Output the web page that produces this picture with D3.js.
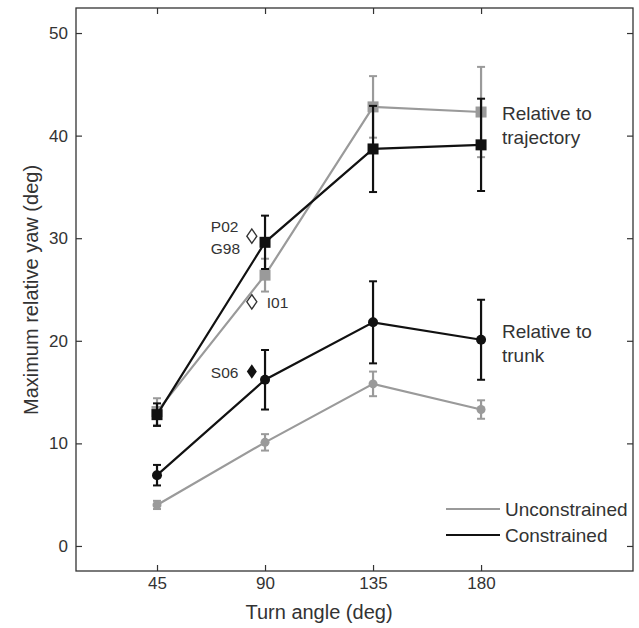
<!DOCTYPE html>
<html>
<head>
<meta charset="utf-8">
<script src="https://cdn.jsdelivr.net/npm/d3@7"></script>
<style>
  body { margin: 0; background: #fff; }
  text { font-family: "Liberation Sans", Arial, sans-serif; fill: #333; }
</style>
</head>
<body>
<svg width="639" height="628"></svg>
<script>
// data
const angles = [45, 90, 135, 180];
const trajUnc = [13.1, 26.4, 42.8, 42.3];
const trajUncErr = [1.3, 1.6, 3.0, 4.4];
const trajCon = [12.8, 29.6, 38.7, 39.1];
const trajConErr = [1.1, 2.6, 4.2, 4.5];
const trunkUnc = [4.0, 10.1, 15.8, 13.3];
const trunkUncErr = [0.4, 0.8, 1.2, 0.9];
const trunkCon = [6.9, 16.2, 21.8, 20.1];
const trunkConErr = [1.0, 2.9, 4.0, 3.9];
const refOpen = [{ name: "P02 / G98", x: 84.5, y: 30.2 }, { name: "I01", x: 84.5, y: 23.8 }];
const refFilled = [{ name: "S06", x: 84.5, y: 17.0 }];
const yTicks = [0, 10, 20, 30, 40, 50];

const gray = "#9a9a9a";
const black = "#111";

const svg = d3.select("svg");
const plotLeft = 76, plotRight = 633, plotTop = 8, plotBottom = 571;

const x = d3.scaleLinear().domain([11.25, 243.3]).range([plotLeft, plotRight]);
const y = d3.scaleLinear().domain([-2.44, 52.44]).range([plotBottom, plotTop]);

// frame
svg.append("rect")
  .attr("x", plotLeft).attr("y", plotTop)
  .attr("width", plotRight - plotLeft).attr("height", plotBottom - plotTop)
  .attr("fill", "none").attr("stroke", "#333").attr("stroke-width", 1.3);

// axes (ticks inward)
const axisStyle = g => {
  g.select(".domain").remove();
  g.selectAll(".tick line").attr("stroke", "#333").attr("stroke-width", 1.2);
  g.selectAll(".tick text").attr("font-size", 17).attr("fill", "#333")
    .style("font-family", "'Liberation Sans', Arial, sans-serif");
};
svg.append("g").attr("transform", `translate(0,${plotBottom})`)
  .call(d3.axisBottom(x).tickValues(angles).tickSizeInner(-6).tickPadding(6))
  .call(axisStyle);
svg.append("g").attr("transform", `translate(0,${plotTop})`)
  .call(d3.axisTop(x).tickValues(angles).tickSizeInner(-6).tickFormat(""))
  .call(axisStyle);
svg.append("g").attr("transform", `translate(${plotLeft},0)`)
  .call(d3.axisLeft(y).tickValues(yTicks).tickSizeInner(-6).tickPadding(8))
  .call(axisStyle);
svg.append("g").attr("transform", `translate(${plotRight},0)`)
  .call(d3.axisRight(y).tickValues(yTicks).tickSizeInner(-6).tickFormat(""))
  .call(axisStyle);

// axis titles
svg.append("text")
  .attr("x", 319).attr("y", 619)
  .attr("text-anchor", "middle").attr("font-size", 20)
  .text("Turn angle (deg)");
svg.append("text")
  .attr("transform", `translate(38,290) rotate(-90)`)
  .attr("text-anchor", "middle").attr("font-size", 20)
  .text("Maximum relative yaw (deg)");

// series
const line = d3.line().x((d, i) => x(angles[i])).y(d => y(d));

function drawSeries(vals, errs, color, marker, size) {
  const g = svg.append("g");
  g.append("path").datum(vals)
    .attr("d", line).attr("fill", "none")
    .attr("stroke", color).attr("stroke-width", 2.2);
  vals.forEach((v, i) => {
    const cx = x(angles[i]);
    const y1 = y(v + errs[i]), y2 = y(v - errs[i]);
    g.append("line").attr("x1", cx).attr("x2", cx).attr("y1", y1).attr("y2", y2)
      .attr("stroke", color).attr("stroke-width", 2.2);
    [y1, y2].forEach(yy => g.append("line")
      .attr("x1", cx - 4).attr("x2", cx + 4).attr("y1", yy).attr("y2", yy)
      .attr("stroke", color).attr("stroke-width", 2));
    if (marker === "square") {
      g.append("rect").attr("x", cx - size / 2).attr("y", y(v) - size / 2)
        .attr("width", size).attr("height", size).attr("fill", color);
    } else {
      g.append("circle").attr("cx", cx).attr("cy", y(v)).attr("r", size / 2).attr("fill", color);
    }
  });
}

drawSeries(trunkUnc, trunkUncErr, gray, "circle", 9);
drawSeries(trunkCon, trunkConErr, black, "circle", 10);
drawSeries(trajUnc, trajUncErr, gray, "square", 11);
drawSeries(trajCon, trajConErr, black, "square", 11);

// reference points
const diamond = d3.symbol().type(d3.symbolDiamond).size(60);
refOpen.forEach(d => {
  svg.append("path").attr("d", diamond)
    .attr("transform", `translate(${x(d.x)},${y(d.y)}) scale(1.2,1)`)
    .attr("fill", "#fff").attr("stroke", "#333").attr("stroke-width", 1.2);
});
refFilled.forEach(d => {
  svg.append("path").attr("d", diamond)
    .attr("transform", `translate(${x(d.x)},${y(d.y)}) scale(1.2,1)`)
    .attr("fill", black);
});

const annot = [
  { t: "P02", xv: 84.5, yv: 30.2, dx: -41, dy: -4 },
  { t: "G98", xv: 84.5, yv: 30.2, dx: -41, dy: 18 },
  { t: "I01", xv: 84.5, yv: 23.8, dx: 15, dy: 6 },
  { t: "S06", xv: 84.5, yv: 17.0, dx: -41, dy: 6 }
];
annot.forEach(a => {
  svg.append("text").attr("x", x(a.xv) + a.dx).attr("y", y(a.yv) + a.dy)
    .attr("font-size", 15.5).text(a.t);
});

// group labels
[["Relative to", 120], ["trajectory", 144], ["Relative to", 338], ["trunk", 362]].forEach(([t, yy]) => {
  svg.append("text").attr("x", 502).attr("y", yy).attr("font-size", 19).text(t);
});

// legend
[["Unconstrained", gray, 509], ["Constrained", black, 535]].forEach(([t, c, yy]) => {
  svg.append("line").attr("x1", 446).attr("x2", 500).attr("y1", yy).attr("y2", yy)
    .attr("stroke", c).attr("stroke-width", 2.2);
  svg.append("text").attr("x", 505).attr("y", yy + 7).attr("font-size", 19).text(t);
});
</script>
</body>
</html>
